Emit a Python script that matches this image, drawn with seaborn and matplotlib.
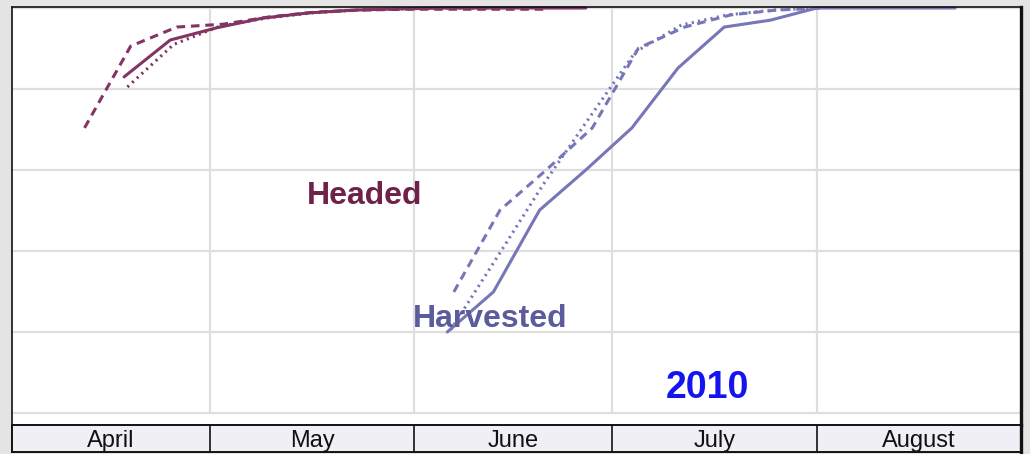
import numpy as np
import pandas as pd
import matplotlib
matplotlib.use("Agg")
import matplotlib.pyplot as plt
import seaborn as sns

# x values are days since April 1 (weekly reports), y values are percent
headed_solid_x = [17, 24, 31, 38, 45, 52, 59, 66, 73, 80, 87]
headed_solid_y = [83.0, 92.1, 95.1, 97.5, 98.8, 99.5, 99.8, 100, 100, 100, 100]
headed_dash_x = [11, 18, 25, 32, 39, 46, 53, 60, 67, 74, 81]
headed_dash_y = [70.4, 90.6, 95.3, 96.0, 97.8, 99.0, 99.5, 99.7, 99.7, 99.7, 99.7]
headed_dot_x = [17.5, 24.5, 31.5, 38.5, 45.5, 52.5, 59.5, 66.5, 73.5]
headed_dot_y = [80.5, 91.0, 95.5, 97.5, 98.8, 99.5, 99.8, 100, 100]

harv_solid_x = [66, 73, 80, 87, 94, 101, 108, 115, 122, 129, 136, 143]
harv_solid_y = [20.0, 29.9, 50.1, 60.0, 70.4, 85.2, 95.3, 97.0, 100, 100, 100, 100]
harv_dash_x = [67, 74, 81, 88, 95, 102, 109, 116, 123]
harv_dash_y = [29.9, 50.1, 60.0, 70.4, 90.1, 95.3, 98.3, 99.5, 100]
harv_dot_x = [66.5, 73.5, 80.5, 87.5, 94.5, 101.5, 108.5, 115.5, 122.5]
harv_dot_y = [20.5, 38.3, 56.3, 72.8, 89.1, 95.8, 98.3, 99.5, 100]

months = ["April", "May", "June", "July", "August"]
month_days = [30, 31, 30, 31, 31]

headed_color = "#823463"
harv_color = "#7676b8"

sns.set_style("white")
plt.rcParams['font.family'] = ['Liberation Sans', 'DejaVu Sans']

fig = plt.figure(figsize=(10.3, 4.54), dpi=100)
fig.patch.set_facecolor("#e4e4e4")

W, H = 1030, 454
ax = fig.add_axes([12 / W, (H - 425) / H, (1021 - 12) / W, (425 - 7) / H])
band = fig.add_axes([12 / W, (H - 452) / H, (1021 - 12) / W, (452 - 425) / H])

bounds = np.cumsum([0] + month_days)
total = bounds[-1]

# grid
for yv in [0, 20, 40, 60, 80, 100]:
    ax.axhline(yv, color="#dedede", lw=1.6, zorder=0)
ax.vlines(bounds[1:-1], 0, 100, color="#dedede", lw=1.6, zorder=0)

series = [
    (headed_solid_x, headed_solid_y, headed_color, None),
    (headed_dash_x, headed_dash_y, headed_color, (2.8, 1.9)),
    (headed_dot_x, headed_dot_y, headed_color, (0.7, 1.4)),
    (harv_solid_x, harv_solid_y, harv_color, None),
    (harv_dash_x, harv_dash_y, harv_color, (2.8, 1.9)),
    (harv_dot_x, harv_dot_y, harv_color, (0.7, 1.4)),
]
for xs, ys, col, dash in series:
    df = pd.DataFrame({"day": xs, "pct": ys})
    sns.lineplot(data=df, x="day", y="pct", color=col, lw=2.2, sort=False,
                 estimator=None, ax=ax, clip_on=False)
    if dash is not None:
        ax.lines[-1].set_dashes(dash)

ax.set_xlim(0, total)
ax.set_ylim(-2.96, 100.25)
ax.set_xticks([])
ax.set_yticks([])
ax.set_xlabel("")
ax.set_ylabel("")
for side in ["top", "left"]:
    ax.spines[side].set_color("#111111")
    ax.spines[side].set_linewidth(1.2)
ax.spines["right"].set_color("#111111")
ax.spines["right"].set_linewidth(2.4)
ax.spines["bottom"].set_visible(False)

ax.text(53.5, 53.5, "Headed", color="#6e2249", fontsize=23, fontweight="bold",
        ha="center", va="center")
ax.text(72.5, 23.2, "Harvested", color="#5c5c9c", fontsize=23, fontweight="bold",
        ha="center", va="center")
ax.text(105.4, 6.1, "2010", color="#1414f0", fontsize=27, fontweight="bold",
        ha="center", va="center")

# month band
band.set_facecolor("#efeff5")
band.set_xlim(0, total)
band.set_ylim(0, 1)
band.vlines(bounds[1:-1], 0, 1, color="#111111", lw=1.2)
for i, m in enumerate(months):
    band.text((bounds[i] + bounds[i + 1]) / 2, 0.4, m, ha="center", va="center",
              fontsize=17, color="#111111")
band.set_xticks([])
band.set_yticks([])
for side in ["top", "left", "bottom"]:
    band.spines[side].set_color("#111111")
    band.spines[side].set_linewidth(1.4)
band.spines["right"].set_color("#111111")
band.spines["right"].set_linewidth(2.4)

fig.savefig("out.png", dpi=100, facecolor=fig.get_facecolor())
